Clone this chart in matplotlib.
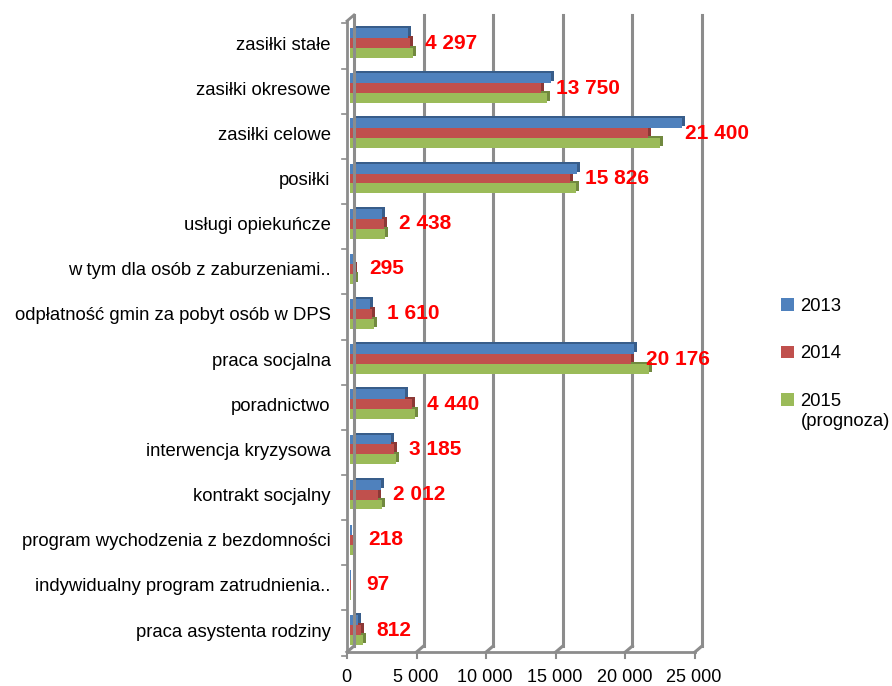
import matplotlib
matplotlib.use("Agg")
import matplotlib.pyplot as plt
import numpy as np
from matplotlib.lines import Line2D
from matplotlib.transforms import IdentityTransform, offset_copy, ScaledTranslation

plt.rcParams['font.family'] = ['Liberation Sans', 'DejaVu Sans']

# Data
categories = ['zasiłki stałe', 'zasiłki okresowe', 'zasiłki celowe', 'posiłki',
              'usługi opiekuńcze', 'w tym dla osób z zaburzeniami..',
              'odpłatność gmin za pobyt osób w DPS', 'praca socjalna', 'poradnictwo',
              'interwencja kryzysowa', 'kontrakt socjalny',
              'program wychodzenia z bezdomności', 'indywidualny program zatrudnienia..',
              'praca asystenta rodziny']
v2013 = [4150, 14470, 23850, 16330, 2300, 250, 1470, 20400, 3940, 2970, 2230, 150, 80, 600]
v2014 = [4297, 13750, 21400, 15826, 2438, 295, 1610, 20176, 4440, 3185, 2012, 218, 97, 812]
v2015 = [4500, 14180, 22260, 16260, 2500, 350, 1750, 21450, 4660, 3330, 2300, 200, 100, 900]
series_names = ['2013', '2014', '2015']
note_2015 = '(prognoza)'
xticks = [0, 5000, 10000, 15000, 20000, 25000]

colors = ['#4F81BD', '#C0504D', '#9BBB59']
shades = ['#385D8A', '#8C3836', '#71893F']
gray = '#8C8C8C'

fig = plt.figure(figsize=(8.92, 6.86), dpi=100)
ax = fig.add_axes([350 / 892, 37 / 686, 348 / 892, (649 - 18) / 686])
ax.set_xlim(0, 25000)
ax.set_ylim(13.42, -0.554)
for s in ax.spines.values():
    s.set_visible(False)

y = np.arange(len(categories))
h = 0.22
offs = [-h, 0, h]
shadow_tr = offset_copy(ax.transData, fig=fig, x=3, y=2, units='dots')

# back-plane grid lines
back_tr = offset_copy(ax.transData, fig=fig, x=4, y=3, units='dots')
for t in xticks[1:]:
    ax.plot([t, t], [13.42, -0.554], color=gray, lw=2.2, transform=back_tr,
            clip_on=False, zorder=0)

# bars with a simple depth effect
for vals, off, sh in zip([v2013, v2014, v2015], offs, shades):
    ax.barh(y + off, vals, height=h, color=sh, transform=shadow_tr, zorder=2)
for vals, off, c, name in zip([v2013, v2014, v2015], offs, colors, series_names):
    ax.barh(y + off, vals, height=h, color=c, label=name, zorder=3)

# value labels (2014)
extra = {2: 22}
for i, v in enumerate(v2014):
    ax.annotate(f'{v:,}'.replace(',', ' '), (v, i), xytext=((15 + extra.get(i, 0)) * 0.72, 0),
                textcoords='offset points', va='center', ha='left',
                color='#FF0000', fontsize=15, fontweight='bold', zorder=5)

# axes frame drawn in display coords (front / back planes)
fig.canvas.draw()
def disp(xv, yv):
    return ax.transData.transform((xv, yv))

def seg(p0, p1, lw=2.0):
    fig.add_artist(Line2D([p0[0], p1[0]], [p0[1], p1[1]], color=gray, lw=lw,
                          transform=IdentityTransform(), zorder=1))

bot, top = 13.42, -0.554
for t in xticks:
    p = disp(t, bot)
    seg((p[0] + 4, p[1] + 3), (p[0] - 3, p[1] - 3), lw=2.2)
    seg((p[0] - 3, p[1] - 3), (p[0] - 3, p[1] - 9), lw=1.5)
p0 = disp(0, bot)
p1 = disp(25000, bot)
seg((p0[0] - 3, p0[1] - 3), (p1[0] - 3, p1[1] - 3))
q = disp(0, top)
seg((p0[0] + 4, p0[1] + 3), (q[0] + 4, q[1] + 3), lw=2.2)
seg((p0[0] - 3, p0[1] - 3), (q[0] - 3, q[1] - 3), lw=2.0)
seg((q[0] - 3, q[1] - 3), (q[0] + 4, q[1] + 3), lw=2.0)
for b in np.arange(-0.5, len(categories), 1.0):
    p = disp(0, b)
    seg((p[0] - 3, p[1] - 3), (p[0] - 8, p[1] - 3), lw=1.2)

# ticks and labels
ax.set_yticks(y, categories, fontsize=13.3)
ax.tick_params(axis='y', length=0, pad=14)
ax.set_xticks(xticks, [f'{t:,}'.replace(',', ' ') for t in xticks], fontsize=13)
ax.tick_params(axis='x', length=0, pad=14.5)
for lab in ax.get_xticklabels():
    lab.set_transform(lab.get_transform() + ScaledTranslation(-4 / 100, 0, fig.dpi_scale_trans))

leg = fig.legend(loc='upper left', bbox_to_anchor=(781 / 892, 1 - 298 / 686), frameon=False,
                 fontsize=13.3, handlelength=0.7, handleheight=0.7, handletextpad=0.35,
                 labelspacing=1.65, borderpad=0, borderaxespad=0)
fig.canvas.draw()
ax.annotate(note_2015, xy=(0, 0), xycoords=leg.get_texts()[2], xytext=(0, -2),
            textcoords='offset points', ha='left', va='top', fontsize=13.3)

fig.savefig('out.png', dpi=100)
